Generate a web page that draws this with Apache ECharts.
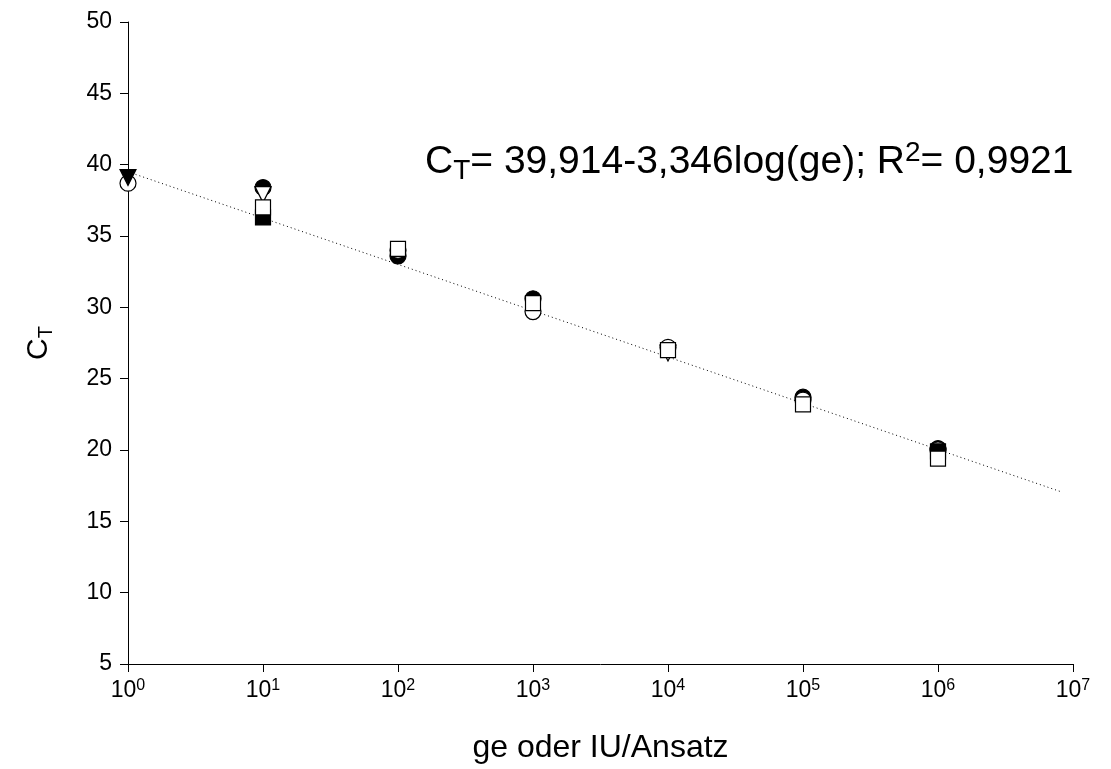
<!DOCTYPE html>
<html>
<head>
<meta charset="utf-8">
<script src="https://cdn.jsdelivr.net/npm/echarts@6/dist/echarts.min.js"></script>
<style>
  html, body { margin: 0; padding: 0; background: #fff; }
  #main { width: 1111px; height: 769px; }
</style>
</head>
<body>
<div id="main"></div>
<script>
// values, x = ge oder IU/Ansatz, y = C_T
var filledCircleX = [10, 100, 1000, 100000, 1000000];
var filledCircleY = [38.4, 33.6, 30.6, 23.7, 20.1];
var openCircleX = [1, 100, 1000, 10000, 100000, 1000000];
var openCircleY = [38.7, 34.0, 29.7, 27.2, 23.5, 20.0];
var filledTriX = [1];
var filledTriY = [39.1];
var openTriX = [10, 10000];
var openTriY = [37.9, 26.8];
var filledSquareX = [10, 1000000];
var filledSquareY = [36.3, 19.9];
var openSquareX = [10, 100, 1000, 10000, 100000, 1000000];
var openSquareY = [37.0, 34.1, 30.3, 27.0, 23.2, 19.4];
// regression line end points
var fitX = [1, 8000000];
var fitY = [39.5, 17.1];

function pairs(xs, ys) {
    var out = [];
    for (var i = 0; i < xs.length; i++) out.push([xs[i], ys[i]]);
    return out;
}

var font = 'Liberation Sans, Arial, sans-serif';
var chart = echarts.init(document.getElementById('main'));

function markSeries(name, xs, ys, symbol, filled, rotate) {
    return {
        name: name,
        type: 'scatter',
        symbol: symbol,
        symbolSize: symbol === 'rect' ? 15 : 16,
        symbolRotate: rotate || 0,
        itemStyle: {
            color: filled ? '#000' : '#fff',
            borderColor: '#000',
            borderWidth: 1.2,
            opacity: 1
        },
        emphasis: { disabled: true },
        data: pairs(xs, ys),
        z: 3
    };
}

var option = {
    backgroundColor: '#fff',
    animation: false,
    textStyle: { fontFamily: font },
    grid: { left: 128, right: 38, top: 22, bottom: 105, outerBoundsMode: 'none', containLabel: false },
    xAxis: {
        type: 'log',
        logBase: 10,
        min: 1,
        max: 10000000,
        name: 'ge oder IU/Ansatz',
        nameLocation: 'middle',
        nameGap: 68,
        nameTextStyle: { fontSize: 32, color: '#000', fontFamily: font },
        axisLine: { lineStyle: { color: '#000', width: 1 } },
        axisTick: { inside: false, length: 8, lineStyle: { color: '#000' } },
        minorTick: { show: false },
        splitLine: { show: false },
        axisLabel: {
            color: '#000',
            fontSize: 23,
            margin: 14,
            formatter: function (v) {
                var n = Math.round(Math.log(v) / Math.LN10);
                return '10{sup|' + n + '}';
            },
            rich: {
                sup: { fontSize: 16, verticalAlign: 'top', color: '#000', padding: [0, 0, 10, 0] }
            }
        }
    },
    yAxis: {
        type: 'value',
        min: 5,
        max: 50,
        interval: 5,
        name: 'C{sub|T}',
        nameLocation: 'middle',
        nameGap: 72,
        nameRotate: 90,
        nameTextStyle: {
            fontSize: 30,
            color: '#000',
            fontFamily: font,
            rich: {
                sub: { fontSize: 20, color: '#000', verticalAlign: 'bottom', padding: [14, 0, 0, 0] }
            }
        },
        axisLine: { show: true, lineStyle: { color: '#000', width: 1 } },
        axisTick: { show: true, length: 8, lineStyle: { color: '#000' } },
        splitLine: { show: false },
        axisLabel: { color: '#000', fontSize: 23, margin: 16 }
    },
    series: [
        {
            name: 'fit',
            type: 'line',
            data: pairs(fitX, fitY),
            symbol: 'none',
            lineStyle: { color: '#000', width: 1, type: [1, 3] },
            emphasis: { disabled: true },
            z: 2
        },
        markSeries('a', filledCircleX, filledCircleY, 'circle', true),
        markSeries('b', openCircleX, openCircleY, 'circle', false),
        markSeries('c', filledTriX, filledTriY, 'triangle', true, 180),
        markSeries('d', openTriX, openTriY, 'triangle', false, 180),
        markSeries('e', filledSquareX, filledSquareY, 'rect', true),
        markSeries('f', openSquareX, openSquareY, 'rect', false)
    ],
    graphic: [
        {
            type: 'text',
            left: 425,
            top: 139,
            style: {
                text: 'C{sub|T}= 39,914-3,346log(ge); R{sup|2}= 0,9921',
                fontSize: 39,
                fontFamily: font,
                fill: '#000',
                rich: {
                    sub: { fontSize: 28, verticalAlign: 'bottom', padding: [18, 0, 0, 0], fill: '#000' },
                    sup: { fontSize: 28, verticalAlign: 'top', padding: [0, 0, 16, 0], fill: '#000' }
                }
            }
        }
    ]
};

chart.setOption(option);
</script>
</body>
</html>
